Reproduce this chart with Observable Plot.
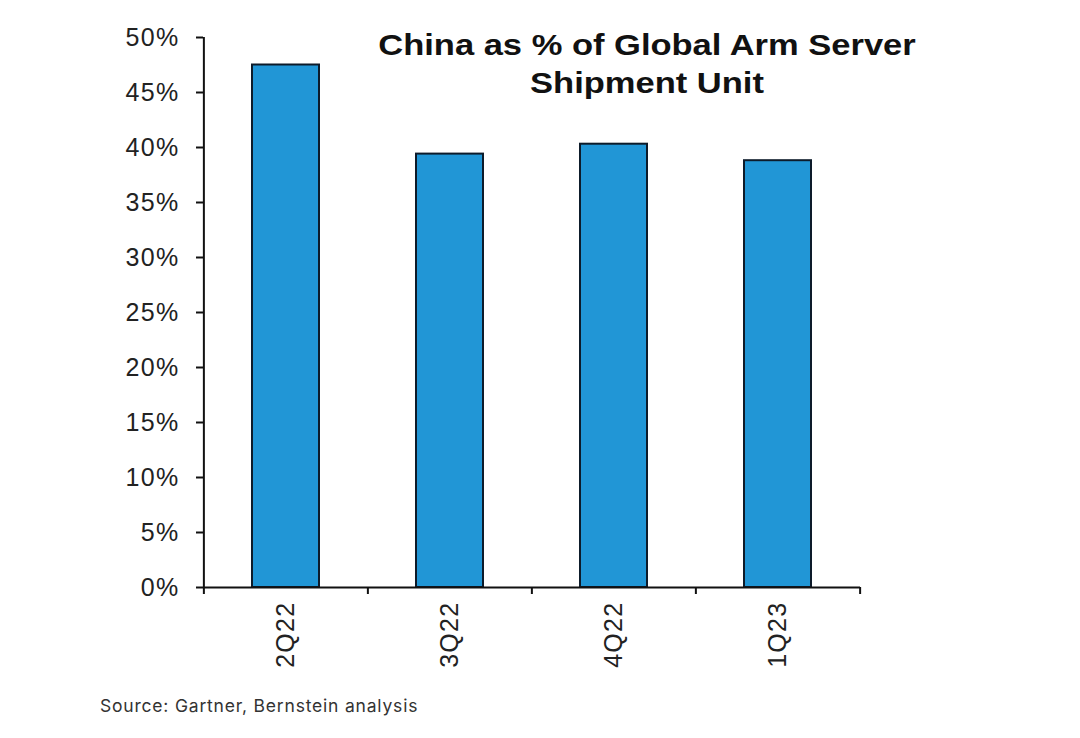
<!DOCTYPE html>
<html>
<head>
<meta charset="utf-8">
<script src="https://cdn.jsdelivr.net/npm/d3@7"></script>
<script src="https://cdn.jsdelivr.net/npm/@observablehq/plot@0.6"></script>
<style>
  body { margin: 0; background: #fff; }
  #wrap { position: relative; width: 1080px; height: 738px; font-family: "Liberation Sans", Arial, sans-serif; }
  #title { position: absolute; left: 347px; width: 600px; top: 26px; text-align: center; font-size: 30px; font-weight: bold; line-height: 38px; color: #111; transform: scaleX(1.15); transform-origin: 300px 0; }
  #source { position: absolute; left: 100px; top: 695px; font-family: Inter, "Liberation Sans", sans-serif; font-size: 17.5px; letter-spacing: 0.8px; color: #333; }
  svg { position: absolute; left: 0; top: 0; }
</style>
</head>
<body>
<div id="wrap">
  <div id="chart"></div>
  <div id="title">China as % of Global Arm Server<br>Shipment Unit</div>
  <div id="source">Source: Gartner, Bernstein analysis</div>
</div>
<script>
const quarters = ["2Q22", "3Q22", "4Q22", "1Q23"];
const shares = [47.5, 39.4, 40.3, 38.8];
const yTicks = [0, 5, 10, 15, 20, 25, 30, 35, 40, 45, 50];

const data = quarters.map((q, i) => ({quarter: q, share: shares[i]}));

const width = 1080, height = 738;
const marginLeft = 203, marginRight = 220, marginTop = 37, marginBottom = 151;
const step = (width - marginLeft - marginRight) / quarters.length;

const plot = Plot.plot({
  width, height, marginLeft, marginRight, marginTop, marginBottom,
  style: {fontFamily: "'Liberation Sans', Arial, sans-serif", color: "#222", background: "transparent", letterSpacing: "1.3px"},
  x: {domain: quarters, paddingInner: 0.59, paddingOuter: 0.295, label: null},
  y: {domain: [0, 50], label: null},
  marks: [
    Plot.barY(data, {x: "quarter", y: "share", fill: "#2196d6", stroke: "#0d1b2a", strokeWidth: 2}),
    Plot.ruleY([0], {stroke: "#111", strokeWidth: 2}),
    // left axis line
    Plot.ruleX([quarters[0]], {dx: -step / 2, y1: 0, y2: 50, stroke: "#111", strokeWidth: 2}),
    // x boundary ticks
    Plot.ruleX(quarters, {dx: -step / 2, y1: 0, y2: 0, insetBottom: -7, stroke: "#111", strokeWidth: 2}),
    Plot.ruleX([quarters[quarters.length - 1]], {dx: step / 2, y1: 0, y2: 0, insetBottom: -7, stroke: "#111", strokeWidth: 2}),
    Plot.axisY({ticks: yTicks, tickFormat: d => d + "%", tickSize: 7, tickPadding: 17, fontSize: 25, stroke: "#111", strokeWidth: 2, label: null}),
    Plot.axisX({tickSize: 0, tickPadding: 14, tickRotate: -90, fontSize: 25, label: null})
  ]
});
document.getElementById("chart").appendChild(plot);
</script>
</body>
</html>
